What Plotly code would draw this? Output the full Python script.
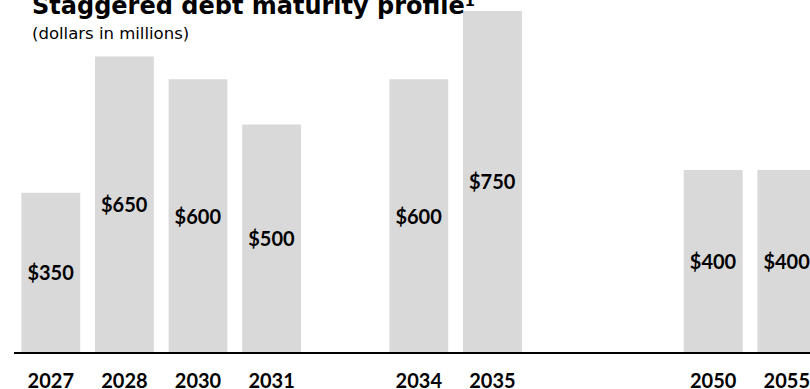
import plotly.graph_objects as go

# Debt maturities by year (dollars in millions)
years = ["2027", "2028", "2030", "2031", "2034", "2035", "2050", "2055"]
amounts = [350, 650, 600, 500, 600, 750, 400, 400]

# Empty slots on the x axis where no debt matures
gap_after = {"2031": 1, "2035": 2}
order = []
for yr in years:
    order.append(yr)
    for _ in range(gap_after.get(yr, 0)):
        order.append(" " * (len(order) + 1))

FONT = "Lato"
HEAD_FONT = "DejaVu Sans"
BAR = "#d9d9d9"

fig = go.Figure(
    go.Bar(
        x=years,
        y=amounts,
        width=0.8,
        marker=dict(color=BAR, line=dict(width=0)),
        text=[f"${v}" for v in amounts],
        textposition="inside",
        insidetextanchor="middle",
        textangle=0,
        constraintext="none",
        textfont=dict(family=FONT, size=20, color="#000000", weight="bold"),
        hoverinfo="skip",
    )
)

fig.update_layout(
    width=810,
    height=389,
    margin=dict(l=14, r=0, t=0, b=37, autoexpand=False),
    paper_bgcolor="white",
    plot_bgcolor="white",
    showlegend=False,
    bargap=0.2,
    xaxis=dict(
        type="category",
        categoryorder="array",
        categoryarray=order,
        range=[-0.5, 10.315],
        automargin=False,
        showline=True,
        linecolor="#000000",
        linewidth=2,
        showgrid=False,
        zeroline=False,
        ticks="outside",
        ticklen=10,
        tickcolor="rgba(0,0,0,0)",
        tickfont=dict(family=FONT, size=20, color="#000000", weight="bold"),
    ),
    yaxis=dict(
        range=[0, 774],
        visible=False,
        automargin=False,
        showgrid=False,
        zeroline=False,
    ),
    annotations=[
        dict(
            text="<b>Staggered debt maturity profile¹</b>",
            xref="paper", yref="paper",
            x=16 / 796, y=1 - 5.5 / 352,
            xanchor="left", yanchor="middle",
            showarrow=False,
            font=dict(family=HEAD_FONT, size=24, color="#000000"),
        ),
        dict(
            text="(dollars in millions)",
            xref="paper", yref="paper",
            x=16 / 796, y=1 - 34 / 352,
            xanchor="left", yanchor="middle",
            showarrow=False,
            font=dict(family=HEAD_FONT, size=16.5, color="#000000"),
        ),
    ],
)

fig.write_html("out.html")
